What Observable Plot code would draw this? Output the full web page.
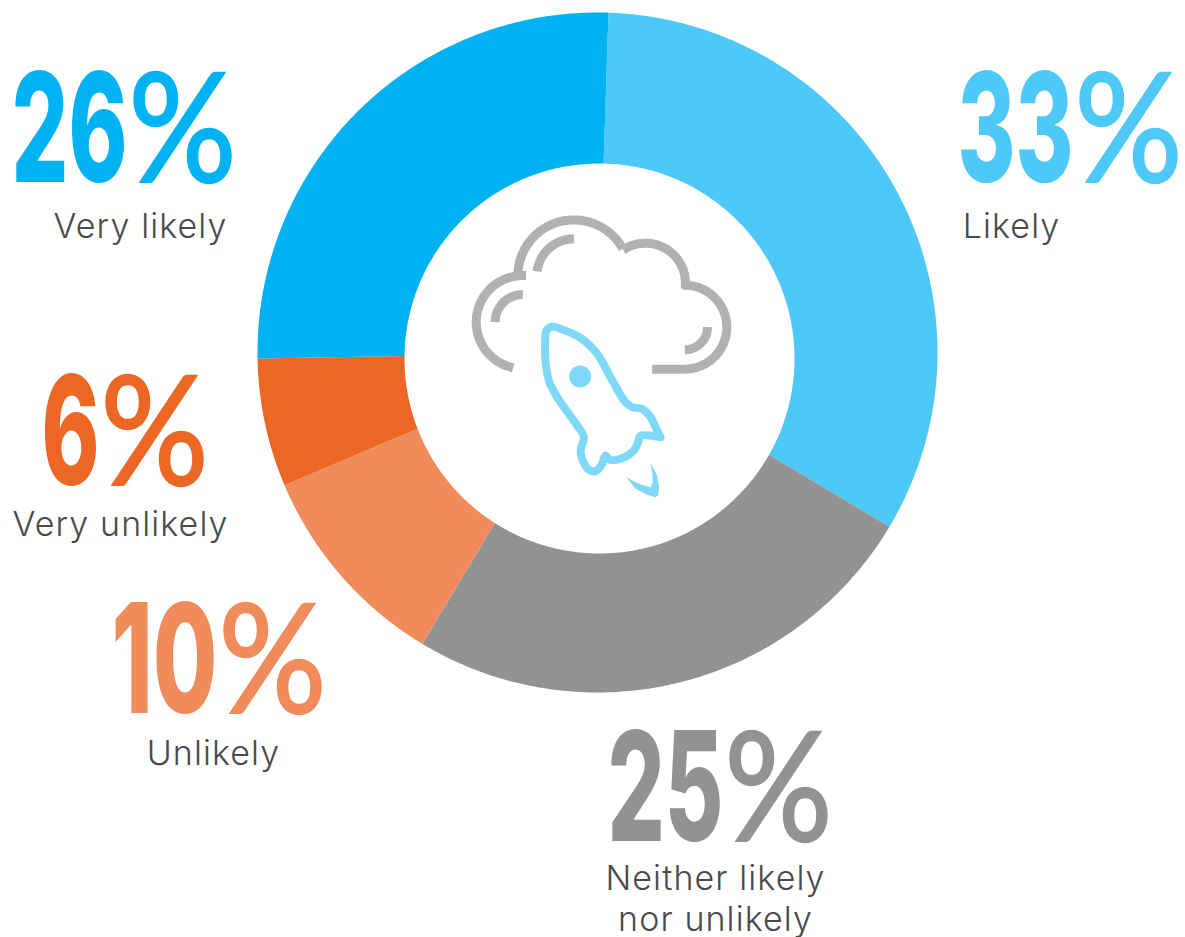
<!DOCTYPE html>
<html><head><meta charset="utf-8">
<script src="https://cdn.jsdelivr.net/npm/d3@7"></script>
<script src="https://cdn.jsdelivr.net/npm/@observablehq/plot@0.6"></script>
<style>html,body{margin:0;padding:0;background:#fff}svg{display:block}</style>
</head><body><div id="chart"></div>
<script>
// Data
const categories = ["Likely","Neither likely\nnor unlikely","Unlikely","Very unlikely","Very likely"];
const percentLabels = ["33%","25%","10%","6%","26%"];
const sliceShares = [33.05,25.05,10,6.1,25.8];   // arc sizes as drawn
const sliceColors = ["#4EC8F6","#929292","#F08B5B","#EB6723","#00B2F1"];

// Layout (page pixels via identity scales)
const W = 1185, H = 937;
const outerC = [597,352], rOuter = 340, innerC = [599,358], rInner = 195, startDeg = 1.85;
const pctX = [957,607,111,41,11], pctY = [181,840,712,484,181];
const catX = [1011,715,213,120,140], catY = [237,930,764,535,237];

// Slices: radial edges from the outer centre, hole slightly off-centre as in the picture
const slices = [];
let cum = 0;
const polar = (c,r,deg)=>{const t=deg*Math.PI/180;return [c[0]+r*Math.sin(t),c[1]-r*Math.cos(t)]};
const onHole = deg=>{
  const t=deg*Math.PI/180, ux=Math.sin(t), uy=-Math.cos(t);
  const dx=outerC[0]-innerC[0], dy=outerC[1]-innerC[1], b=dx*ux+dy*uy;
  const s=-b+Math.sqrt(b*b-dx*dx-dy*dy+rInner*rInner);
  return polar(outerC,s,deg);
};
categories.forEach((name,i)=>{
  const a0 = startDeg + cum*3.6, a1 = a0 + sliceShares[i]*3.6;
  cum += sliceShares[i];
  const n = Math.ceil(a1-a0)*2;
  const ang = k=>a0+(a1-a0)*k/n;
  for(let k=0;k<=n;k++){const [x,y]=polar(outerC,rOuter,ang(k));slices.push({name,x,y})}
  for(let k=n;k>=0;k--){const [x,y]=onHole(ang(k));slices.push({name,x,y})}
});

// Icon, in a 3x crop whose origin is (450,200)
const arc = (c,r,a0,a1)=>d3.range(0,25).map(k=>polar(c,r,a0+(a1-a0)*k/24));
const lobeL=[217,365], lobeT=[370,226], lobeM=[585,248], lobeR=[703,380];
const cloudParts = [
 arc(lobeL,140,192,364),
 arc(lobeT,168,266,421),
 arc(lobeM,120,326,458),
 [...arc(lobeR,126,-3,180),[605,506]],
 arc(lobeT,111,277,360),
 arc(lobeL,83,270,360),
 arc(lobeR,68,90,180)
];
const rocketPart = [[630,710],[570,706],[563,725],[550,750],[510,775],[478,778],[465,765],[455,790],[435,812],[415,808],[395,775],[390,750],[400,710],[380,675],[320,590],[295,540],[285,480],[284,420],[288,390],[305,378],[330,385],[390,412],[440,460],[480,530],[525,605],[545,620],[575,625],[600,650],[620,690],[630,710]];
const flamePart = [[528,830],[555,865],[590,883],[615,890],[623,885],[626,860],[620,825],[600,787],[606,820],[607,845],[600,860],[580,855],[555,845]];
const rocketDot = [[389,528]];
const toPage = ([x,y],part)=>({x:450+x/3,y:200+y/3,part});
const cloudPts = cloudParts.flatMap((p,i)=>p.map(q=>toPage(q,i)));
const rocketPts = rocketPart.map(q=>toPage(q,0));
const flamePts = flamePart.map(q=>toPage(q,0));

const labelRows = categories.map((name,i)=>({name,pct:percentLabels[i],px:pctX[i],py:pctY[i],cx:catX[i],cy:catY[i]}));

// Split "26%" into condensed digits and a wider percent sign, same text element
function condensedPercent(index,scales,values,dims,ctx,next){
  const g = next(index,scales,values,dims,ctx);
  d3.select(g).selectAll("text").each(function(){
    const s = this.textContent, digits = s.slice(0,-1);
    const el = d3.select(this), col = el.attr("fill"); el.text(null);
    el.append("tspan").text(digits)
      .attr("font-family","Inter").attr("font-weight",800)
      .attr("textLength",digits==="10"?106:digits.length*58).attr("lengthAdjust","spacingAndGlyphs");
    el.append("tspan").text("%").attr("dx",1)
      .attr("font-family","Lato").attr("font-weight",400)
      .attr("stroke",col).attr("stroke-width",2.5)
      .attr("textLength",108).attr("lengthAdjust","spacingAndGlyphs");
  });
  return g;
}
function spaced(index,scales,values,dims,ctx,next){
  const g = next(index,scales,values,dims,ctx);
  d3.select(g).selectAll("text").style("letter-spacing","1.1px");
  return g;
}

const chart = Plot.plot({
  width:W,height:H,margin:0,
  x:{type:"linear",domain:[0,W],range:[0,W],axis:null},
  y:{type:"linear",domain:[0,H],range:[0,H],axis:null},
  color:{domain:categories,range:sliceColors},
  style:{background:"transparent"},
  marks:[
    Plot.line(slices,{x:"x",y:"y",z:"name",fill:"name",stroke:null,curve:"linear-closed"}),
    Plot.line(cloudPts,{x:"x",y:"y",z:"part",stroke:"#B0B1B0",strokeWidth:9,strokeLinecap:"butt"}),
    Plot.line(rocketPts,{x:"x",y:"y",stroke:"#80D8F8",strokeWidth:8,curve:"catmull-rom"}),
    Plot.line(flamePts,{x:"x",y:"y",fill:"#80D8F8",stroke:null,curve:"linear-closed"}),
    Plot.dot(rocketDot,{x:d=>450+d[0]/3,y:d=>200+d[1]/3,r:11,fill:"#80D8F8",stroke:null}),
    Plot.text(labelRows,{x:"px",y:"py",text:"pct",fill:"name",textAnchor:"start",lineAnchor:"bottom",fontSize:152,render:condensedPercent}),
    Plot.text(labelRows,{x:"cx",y:"cy",text:"name",fill:"#4A4A4A",textAnchor:"middle",lineAnchor:"bottom",fontSize:34,fontWeight:300,fontFamily:"Inter",lineHeight:1.18,render:spaced})
  ]
});
document.getElementById("chart").append(chart);
</script></body></html>
